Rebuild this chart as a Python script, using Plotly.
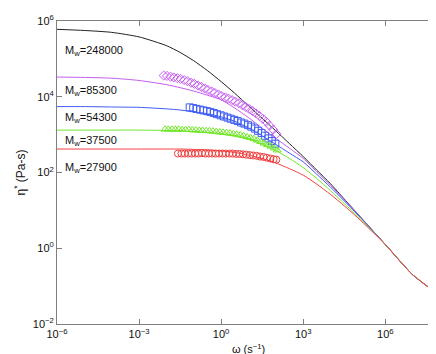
"""Complex viscosity master curves for several molecular weights."""

import numpy as np
import plotly.graph_objects as go

# --- data (log10 values) --------------------------------------------------
LINE_LOG_W = [-6, -5, -4, -3, -2, -1.5, -1, -0.5, 0, 0.5, 1, 1.5, 2, 2.5, 3, 3.5, 4, 4.5, 5, 6, 7, 8]

line_log_eta = {
    "248000": [5.78, 5.75, 5.70, 5.58, 5.35, 5.17, 4.95, 4.69, 4.40, 4.09, 3.76, 3.43,
               3.10, 2.76, 2.42, 2.06, 1.70, 1.30, 0.90, 0.10, -0.70, -1.25],
    "85300": [4.52, 4.51, 4.49, 4.43, 4.32, 4.24, 4.15, 4.04, 3.92, 3.70, 3.45, 3.17,
              2.90, 2.64, 2.37, 2.02, 1.66, 1.28, 0.89, 0.10, -0.70, -1.25],
    "54300": [3.74, 3.74, 3.73, 3.72, 3.68, 3.65, 3.60, 3.55, 3.47, 3.35, 3.18, 2.97,
              2.74, 2.51, 2.28, 1.95, 1.61, 1.25, 0.88, 0.10, -0.70, -1.25],
    "37500": [3.12, 3.12, 3.12, 3.12, 3.11, 3.10, 3.08, 3.05, 3.01, 2.96, 2.88, 2.75,
              2.58, 2.37, 2.13, 1.84, 1.52, 1.18, 0.84, 0.10, -0.70, -1.25],
    "27900": [2.62, 2.62, 2.62, 2.62, 2.62, 2.62, 2.61, 2.60, 2.57, 2.53, 2.46, 2.37,
              2.25, 2.10, 1.93, 1.69, 1.42, 1.12, 0.80, 0.10, -0.70, -1.25],
}

mag_log_w = [-2.10, -1.98, -1.85, -1.73, -1.60, -1.48, -1.35, -1.23, -1.10, -0.98, -0.85, -0.73,
             -0.60, -0.48, -0.35, -0.23, -0.10, 0.02, 0.15, 0.27, 0.40, 0.52, 0.65, 0.77,
             0.90, 1.02, 1.15, 1.27, 1.40, 1.52, 1.65, 1.77, 1.90, 2.02]
mag_log_eta = [4.56, 4.55, 4.53, 4.51, 4.49, 4.47, 4.44, 4.41, 4.37, 4.34, 4.30, 4.26,
               4.22, 4.18, 4.14, 4.10, 4.06, 4.02, 3.98, 3.95, 3.91, 3.87, 3.83, 3.78,
               3.73, 3.68, 3.62, 3.56, 3.49, 3.42, 3.34, 3.24, 3.13, 3.02]

blue_log_w = [-1.15, -1.02, -0.90, -0.77, -0.65, -0.52, -0.40, -0.27, -0.15, -0.02, 0.10, 0.23,
              0.35, 0.48, 0.60, 0.73, 0.85, 0.98, 1.10, 1.23, 1.35, 1.48, 1.60, 1.73, 1.85, 1.98]
blue_log_eta = [3.72, 3.70, 3.68, 3.66, 3.64, 3.62, 3.60, 3.57, 3.54, 3.51, 3.48, 3.45,
                3.42, 3.39, 3.36, 3.32, 3.29, 3.25, 3.21, 3.16, 3.10, 3.04, 2.97, 2.90, 2.83, 2.76]

green_log_w = [-2.05, -1.93, -1.80, -1.68, -1.55, -1.43, -1.30, -1.18, -1.05, -0.93, -0.80, -0.68,
               -0.55, -0.43, -0.30, -0.18, -0.05, 0.07, 0.20, 0.32, 0.45, 0.57, 0.70, 0.82,
               0.95, 1.07, 1.20, 1.32, 1.45, 1.57, 1.70, 1.82, 1.95, 2.05]
green_log_eta = [3.14, 3.14, 3.14, 3.14, 3.14, 3.13, 3.13, 3.13, 3.12, 3.12, 3.11, 3.11,
                 3.10, 3.10, 3.09, 3.08, 3.07, 3.06, 3.05, 3.04, 3.02, 3.01, 2.99, 2.97,
                 2.94, 2.92, 2.89, 2.85, 2.81, 2.77, 2.73, 2.69, 2.64, 2.59]

red_log_w = [-1.58, -1.45, -1.33, -1.20, -1.08, -0.95, -0.83, -0.70, -0.58, -0.45, -0.33, -0.20,
             -0.08, 0.05, 0.17, 0.30, 0.42, 0.55, 0.67, 0.80, 0.92, 1.05, 1.17, 1.30,
             1.42, 1.55, 1.67, 1.80, 1.92, 2.02]
red_log_eta = [2.50, 2.50, 2.50, 2.50, 2.50, 2.50, 2.50, 2.51, 2.50, 2.50, 2.50, 2.50,
               2.50, 2.50, 2.50, 2.50, 2.50, 2.49, 2.49, 2.48, 2.47, 2.46, 2.45, 2.44,
               2.42, 2.41, 2.39, 2.37, 2.35, 2.34]

# label text and (log w, log eta) anchor
labels = [("248000", -5.78, 5.20), ("85300", -5.78, 4.14), ("54300", -5.78, 3.44),
          ("37500", -5.78, 2.83), ("27900", -5.78, 2.12)]

X_TICKS = [-6, -3, 0, 3, 6]
Y_TICKS = [-2, 0, 2, 4, 6]

_COL = {
    "248000": "#222222",
    "85300": "#c45cf0",
    "54300": "#3f5cf5",
    "37500": "#72e62a",
    "27900": "#f24040",
}
_FONT = "Liberation Sans, Arial, sans-serif"


def _p(vals):
    return np.power(10.0, np.asarray(vals, dtype=float))


def _tick(e):
    return "10<sup>%s</sup>" % str(e).replace("-", "−")


fig = go.Figure()

for mw, vals in line_log_eta.items():
    fig.add_trace(go.Scatter(
        x=_p(LINE_LOG_W), y=_p(vals), mode="lines",
        line=dict(color=_COL[mw], width=1, shape="spline", smoothing=0.6),
        showlegend=False, hoverinfo="skip",
    ))

markers = [
    (mag_log_w, mag_log_eta, "85300", "diamond-open"),
    (blue_log_w, blue_log_eta, "54300", "square-open"),
    (green_log_w, green_log_eta, "37500", "triangle-up-open"),
    (red_log_w, red_log_eta, "27900", "circle-open"),
]
for lw, le, mw, sym in markers:
    fig.add_trace(go.Scatter(
        x=_p(lw), y=_p(le), mode="markers",
        marker=dict(symbol=sym, size=7, color=_COL[mw], line=dict(width=1, color=_COL[mw])),
        showlegend=False,
    ))

for mw, lx, ly in labels:
    fig.add_annotation(
        x=lx, y=ly, xref="x", yref="y", xanchor="left", yanchor="middle",
        text="M<sub>w</sub>=%s" % mw, showarrow=False,
        font=dict(family=_FONT, size=11, color="#111111"),
    )

axis_common = dict(
    type="log", showgrid=False, zeroline=False, showline=True, linecolor="#7f7f7f",
    linewidth=1, mirror="ticks", ticks="inside", ticklen=5, tickcolor="#7f7f7f",
    tickfont=dict(family=_FONT, size=11, color="#111111"),
)
fig.update_xaxes(
    **axis_common, range=[-6, 8],
    tickvals=_p(X_TICKS).tolist(), ticktext=[_tick(e) for e in X_TICKS],
    title=dict(text="ω (s<sup>−1</sup>)", font=dict(family=_FONT, size=11, color="#111111"),
               standoff=6),
)
fig.update_yaxes(
    **axis_common, range=[-2, 6],
    tickvals=_p(Y_TICKS).tolist(), ticktext=[_tick(e) for e in Y_TICKS],
    title=dict(text="η<sup>*</sup> (Pa-s)", font=dict(family=_FONT, size=12, color="#111111"),
               standoff=4),
)
fig.update_layout(
    width=436, height=354,
    margin=dict(l=49, r=4, t=13, b=38),
    plot_bgcolor="white", paper_bgcolor="white",
)

fig.write_html("out.html")
